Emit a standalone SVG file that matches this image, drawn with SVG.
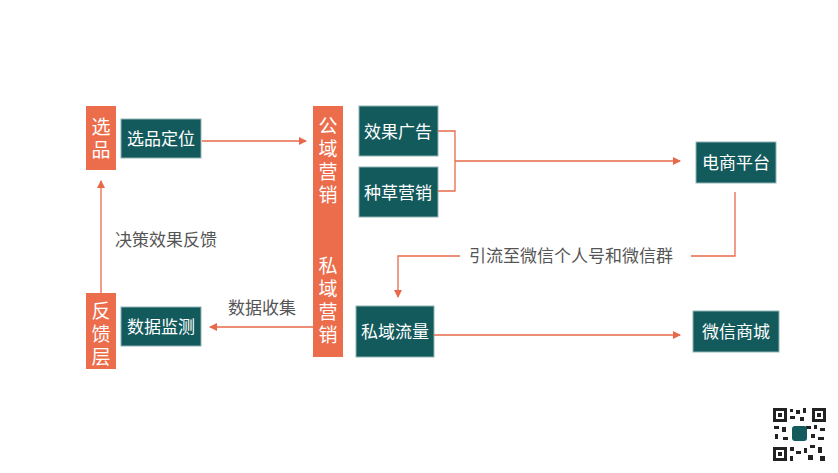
<svg xmlns="http://www.w3.org/2000/svg" width="838" height="473" viewBox="0 0 838 473">
<style>
.o{fill:#EC6D4C}
.t{fill:#135A5D;stroke:#8FB3B3;stroke-width:1}
.w{fill:#fff;font-family:"Noto Sans CJK SC",sans-serif;font-size:17px;text-anchor:middle}
.v{font-size:19px}
.g{fill:#555;font-family:"Noto Sans CJK SC",sans-serif;font-size:17px}
.l{fill:none;stroke:#E8694A;stroke-width:1.3}
</style>
<defs><marker id="a" markerWidth="8" markerHeight="8" refX="7" refY="4" orient="auto" markerUnits="userSpaceOnUse"><path d="M0,0 L8,4 L0,8z" fill="#E8694A"/></marker></defs>
<rect width="838" height="473" fill="#fff"/>
<g id="xp"><rect class="o" x="86" y="106" width="30" height="64"/><text class="w v" x="101" y="134">选</text><text class="w v" x="101" y="157">品</text></g>
<g id="xpdw"><rect class="t" x="121" y="119" width="80" height="39"/><text class="w" x="161" y="145">选品定位</text></g>
<g id="fkc"><rect class="o" x="86" y="293" width="30" height="76"/><text class="w v" x="101" y="318">反</text><text class="w v" x="101" y="341">馈</text><text class="w v" x="101" y="364">层</text></g>
<g id="sjjc"><rect class="t" x="121" y="307" width="80" height="39"/><text class="w" x="161" y="333">数据监测</text></g>
<g id="bar"><rect class="o" x="313" y="106" width="30" height="251"/>
<text class="w v" x="328" y="133">公</text><text class="w v" x="328" y="156">域</text><text class="w v" x="328" y="179">营</text><text class="w v" x="328" y="202">销</text>
<text class="w v" x="328" y="273">私</text><text class="w v" x="328" y="296">域</text><text class="w v" x="328" y="319">营</text><text class="w v" x="328" y="342">销</text></g>
<g id="xggg"><rect class="t" x="359" y="106" width="79" height="50"/><text class="w" x="398" y="138">效果广告</text></g>
<g id="zcyx"><rect class="t" x="359" y="167" width="79" height="50"/><text class="w" x="398" y="199">种草营销</text></g>
<g id="dspt"><rect class="t" x="696" y="142" width="80" height="41"/><text class="w" x="736" y="169">电商平台</text></g>
<g id="syll"><rect class="t" x="356" y="306" width="78" height="51"/><text class="w" x="395" y="338">私域流量</text></g>
<g id="wxsc"><rect class="t" x="693" y="311" width="86" height="41"/><text class="w" x="736" y="338">微信商城</text></g>
<g id="connectors">
<path class="l" d="M202,141 H306" marker-end="url(#a)"/>
<path class="l" d="M101,293 V181" marker-end="url(#a)"/>
<path class="l" d="M313,327 H210" marker-end="url(#a)"/>
<path class="l" d="M438,131 H455 V191 H438 M455,161 H680" marker-end="url(#a)"/>
<path class="l" d="M735,192 V256 H691 M460,256 H398 V297" marker-end="url(#a)"/>
<path class="l" d="M434,335 H680" marker-end="url(#a)"/>
</g>
<text class="g" x="115" y="246">决策效果反馈</text>
<text class="g" x="228" y="314">数据收集</text>
<text class="g" x="469" y="262">引流至微信个人号和微信群</text>
<g id="qr" fill="#222">
<rect x="772" y="407" width="55" height="55" fill="#fff"/>
<path d="M773,408h14v14h-14zM776,411v8h8v-8zM812,408h14v14h-14zM815,411v8h8v-8zM773,447h14v14h-14zM776,450v8h8v-8z" fill-rule="evenodd"/>
<path d="M778,413h4v4h-4zM817,413h4v4h-4zM778,452h4v4h-4zM790,409h3v3h-3zM796,410h4v4h-4zM803,408h3v5h-3zM790,416h5v3h-5zM800,417h4v4h-4zM774,426h5v3h-5zM782,427h4v5h-4zM806,426h5v3h-5zM814,425h3v4h-3zM820,428h5v3h-5zM775,434h3v5h-3zM783,437h5v3h-5zM811,434h4v4h-4zM818,437h6v3h-6zM790,447h4v4h-4zM796,451h5v3h-5zM804,448h3v5h-3zM810,445h5v3h-5zM818,447h4v6h-4zM808,455h5v5h-5zM790,456h3v5h-3zM820,456h5v5h-5z"/>
<rect x="792" y="426" width="15" height="15" rx="3" fill="#135A5D"/>
</g>
</svg>
